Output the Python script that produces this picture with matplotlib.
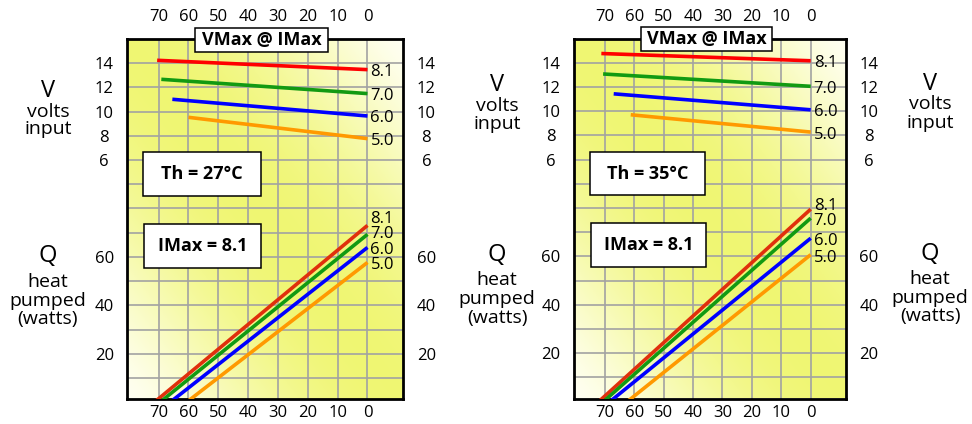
import numpy as np
import matplotlib
matplotlib.use("Agg")
import matplotlib.pyplot as plt
from matplotlib.patches import Rectangle

plt.rcParams['font.family'] = ['Open Sans', 'DejaVu Sans']

# ---------------- data ----------------
dt_ticks = [70, 60, 50, 40, 30, 20, 10, 0]
v_ticks = [6, 8, 10, 12, 14]
q_ticks = [20, 40, 60]
q_grid = [10, 20, 30, 40, 50, 60, 70, 80, 90, 100, 110, 120, 130, 140]
currents = ['8.1', '7.0', '6.0', '5.0']
title_label = 'VMax @ IMax'
th_labels = ['Th = 27°C', 'Th = 35°C']
imax_label = 'IMax = 8.1'

# Panel 1 (Th = 27 C)
v27_dt_start = [70.5, 69.1, 65.4, 60.0]
v27_v_start = [14.24, 12.67, 11.02, 9.53]
v27_v_end = [13.47, 11.49, 9.64, 7.77]
q27_dtmax = [71.4, 69.5, 66.1, 60.6]
q27_qmax = [73.0, 69.3, 63.9, 57.7]

# Panel 2 (Th = 35 C)
v35_dt_start = [71.2, 70.6, 67.0, 61.2]
v35_v_start = [14.76, 13.07, 11.43, 9.70]
v35_v_end = [14.16, 12.05, 10.11, 8.27]
q35_dtmax = [72.1, 70.5, 68.3, 62.4]
q35_qmax = [79.5, 75.8, 67.5, 60.7]

# ---------------- style ----------------
V_COLORS = ['#ff0000', '#129a12', '#0000ff', '#ff9900']
Q_COLORS = ['#e0300c', '#129a12', '#0000ff', '#ff9900']
XLIM = (80.5, -12)
QLIM = (1.3, 150)
TICK_SIZE = 12


def q_to_v(q):
    return (q - 70) / 5.0


fig = plt.figure(figsize=(9.72, 4.24), dpi=100)

positions = [
    [127.3 / 972, 25 / 424, 276 / 972, 360 / 424],
    [574 / 972, 25.5 / 424, 272 / 972, 360 / 424],
]

panels = [
    (v27_dt_start, v27_v_start, v27_v_end, q27_dtmax, q27_qmax, th_labels[0]),
    (v35_dt_start, v35_v_start, v35_v_end, q35_dtmax, q35_qmax, th_labels[1]),
]


def place_labels(ax, ys, shift_px, gap_px):
    disp = [ax.transData.transform((0, y))[1] for y in ys]
    lab = [d - shift_px for d in disp]
    order = np.argsort(lab)
    for i in range(1, len(order)):
        prev = lab[order[i - 1]]
        if lab[order[i]] < prev + gap_px:
            lab[order[i]] = prev + gap_px
    return [l - d for l, d in zip(lab, disp)]


for pos, (vdt, vs, ve, qdt, qm, th) in zip(positions, panels):
    ax = fig.add_axes(pos)
    ax2 = ax.twinx()

    # gradient background
    ny, nx = 200, 200
    yy, xx = np.mgrid[0:1:ny * 1j, 0:1:nx * 1j]
    u = (xx + yy) / 2.0
    w = np.sin(np.pi * u) ** 1.3
    yellow = np.array([0.94, 0.965, 0.45])
    white = np.array([1.0, 1.0, 0.95])
    img = white + (yellow - white) * w[..., None]
    ax.imshow(img, extent=[0, 1, 0, 1], transform=ax.transAxes,
              origin='lower', aspect='auto', zorder=0)

    ax.set_xlim(*XLIM)
    ax.set_ylim(*QLIM)
    ax2.set_ylim(q_to_v(QLIM[0]), q_to_v(QLIM[1]))

    for x in dt_ticks:
        ax.axvline(x, color='#a2a2a2', lw=1.2, zorder=1)
    for y in q_grid:
        ax.axhline(y, color='#a2a2a2', lw=1.2, zorder=1)

    for s in ax.spines.values():
        s.set_linewidth(2.0)
        s.set_color('black')
        s.set_zorder(3)
    for s in ax2.spines.values():
        s.set_visible(False)

    # x ticks bottom
    ax.set_xticks(dt_ticks)
    ax.tick_params(axis='x', length=0, pad=4.6, labelsize=TICK_SIZE,
                   top=False, labeltop=False)
    sec = ax.secondary_xaxis('top')
    sec.set_xticks(dt_ticks)
    sec.tick_params(length=0, pad=10.0, labelsize=TICK_SIZE)
    sec.spines['top'].set_visible(False)

    # y ticks
    ax.set_yticks(q_ticks)
    ax.tick_params(axis='y', left=True, right=True, labelleft=True,
                   labelright=True, length=0, pad=16.6, labelsize=TICK_SIZE)
    ax2.set_yticks(v_ticks)
    ax2.tick_params(axis='y', left=True, right=True, labelleft=True,
                    labelright=True, length=0, pad=16.6, labelsize=TICK_SIZE)
    for a in (ax, ax2):
        for t in a.yaxis.get_major_ticks():
            t.label1.set_horizontalalignment('center')
            t.label2.set_horizontalalignment('center')

    # Q lines
    for i in range(len(currents)):
        ax.plot([qdt[i], 0], [0, qm[i]], color=Q_COLORS[i], lw=2.6,
                solid_capstyle='butt', zorder=4)
    # V lines
    for i in range(len(currents)):
        ax2.plot([vdt[i], 0], [vs[i], ve[i]], color=V_COLORS[i], lw=2.6,
                 solid_capstyle='butt', zorder=4)

    # labels at line ends
    offs = place_labels(ax, qm, 3.0, 15.5)
    for i, c in enumerate(currents):
        ax.annotate(c, xy=(0, qm[i]), xytext=(3, offs[i]),
                    textcoords='offset pixels', ha='left', va='center',
                    fontsize=12, zorder=7, annotation_clip=False)
    offs = place_labels(ax2, ve, 2.5, 15.5)
    for i, c in enumerate(currents):
        ax2.annotate(c, xy=(0, ve[i]), xytext=(3, offs[i]),
                     textcoords='offset pixels', ha='left', va='center',
                     fontsize=12, zorder=7, annotation_clip=False)

    # boxes
    boxes = [
        (0.247, 0.964, 0.481, 0.067, title_label),
        (0.058, 0.565, 0.425, 0.12, th),
        (0.062, 0.365, 0.422, 0.122, imax_label),
    ]
    for (x0, y0, bw, bh, txt) in boxes:
        ax2.add_patch(Rectangle((x0, y0), bw, bh, transform=ax2.transAxes,
                                fc='white', ec='black', lw=1.1, zorder=6,
                                clip_on=False))
        ax2.text(x0 + bw / 2, y0 + bh / 2, txt, transform=ax2.transAxes,
                 ha='center', va='center', fontsize=13, fontweight='bold',
                 zorder=7)

# side labels (figure pixel positions -> fractions)
H = 424.0
W = 972.0


def ftext(x, y_base, s, size):
    fig.text(x / W, 1 - y_base / H, s, ha='center', va='baseline',
             fontsize=size)


groups = [
    (48, [96.7, 116.7, 134.5], [262, 287, 306, 324]),
    (497, [91, 111, 129], [261, 285, 304, 322.5]),
    (930, [89.5, 109.5, 127.5], [260, 284, 303, 321.5]),
]
for gx, vy, qy in groups:
    ftext(gx, vy[0], 'V', 17)
    ftext(gx, vy[1], 'volts', 14)
    ftext(gx, vy[2], 'input', 14)
    ftext(gx, qy[0], 'Q', 17)
    ftext(gx, qy[1], 'heat', 14)
    ftext(gx, qy[2], 'pumped', 14)
    ftext(gx, qy[3], '(watts)', 14)

fig.savefig('out.png', dpi=100)
